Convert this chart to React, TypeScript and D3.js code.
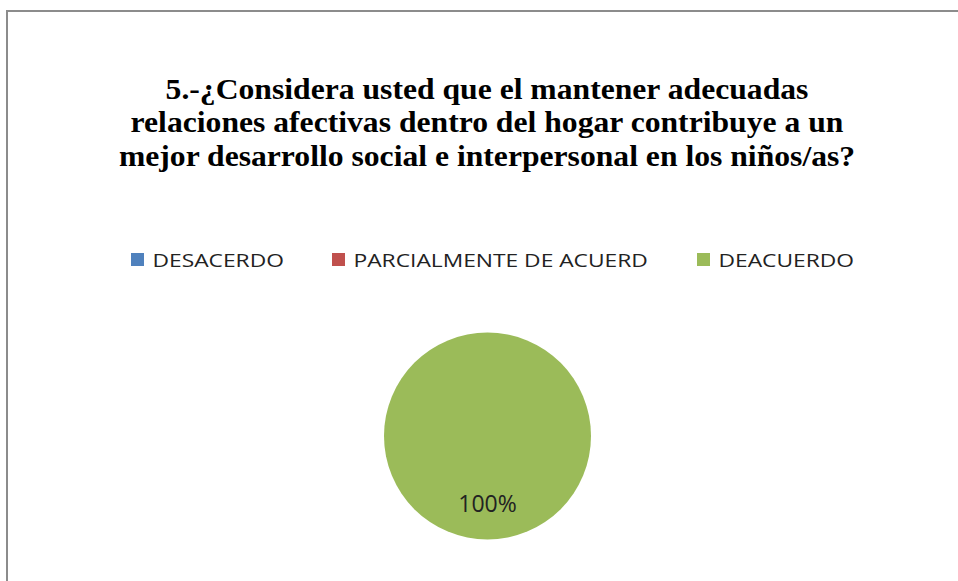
import React from "react";
import * as d3 from "d3";

const categories = ["DESACERDO", "PARCIALMENTE DE ACUERD", "DEACUERDO"];
const values = [0, 0, 100];
const colors = ["#4F81BD", "#C0504D", "#9BBB59"];
const titleLines = [
  "5.-¿Considera usted que el mantener adecuadas",
  "relaciones afectivas dentro del hogar contribuye a un",
  "mejor desarrollo social e interpersonal en los niños/as?",
];
const legendX = [131, 332, 697];

export default function App() {
  const W = 958, H = 581;
  const cx = 487.5, cy = 436, r = 103.5;
  const total = d3.sum(values);
  const pie = d3.pie<number>().sort(null).value((d) => d)(values);
  const arc = d3.arc<d3.PieArcDatum<number>>().innerRadius(0).outerRadius(r);
  return (
    <svg width={W} height={H} style={{ position: "absolute", left: 0, top: 0 }}>
      <rect x={0} y={0} width={W} height={H} fill="#fff" />
      <rect x={7} y={11} width={W + 10} height={H + 10} fill="none" stroke="#8c8c8c" strokeWidth={2} />
      <g fontFamily="'Liberation Serif', 'Times New Roman', serif" fontWeight="bold" fontSize={30} textAnchor="middle" fill="#000">
        {titleLines.map((t, i) => (
          <text key={i} transform={`translate(487,${98.5 + i * 33.5}) scale(1.055,1)`}>{t}</text>
        ))}
      </g>
      <g fontFamily="'Open Sans', Lato, sans-serif" fontSize={19} fill="#222">
        {categories.map((c, i) => (
          <g key={c}>
            <rect x={legendX[i]} y={253} width={13} height={13} fill={colors[i]} />
            <text transform={`translate(${legendX[i] + 21.5},266.5) scale(1.2,1)`}>{c}</text>
          </g>
        ))}
      </g>
      <g transform={`translate(${cx},${cy})`}>
        {pie.map((p, i) =>
          p.value > 0 ? <path key={i} d={arc(p) || ""} fill={colors[i]} /> : null
        )}
        {pie.map((p, i) => {
          if (p.value <= 0) return null;
          const pct = Math.round((p.value / total) * 100) + "%";
          const full = p.endAngle - p.startAngle >= 2 * Math.PI - 1e-6;
          const [lx, ly] = full ? [0, r * 0.735] : arc.centroid(p);
          return (
            <text key={"l" + i} x={lx} y={ly} textAnchor="middle" fontFamily="'Open Sans', Lato, sans-serif" fontSize={23} fill="#222">
              {pct}
            </text>
          );
        })}
      </g>
    </svg>
  );
}
